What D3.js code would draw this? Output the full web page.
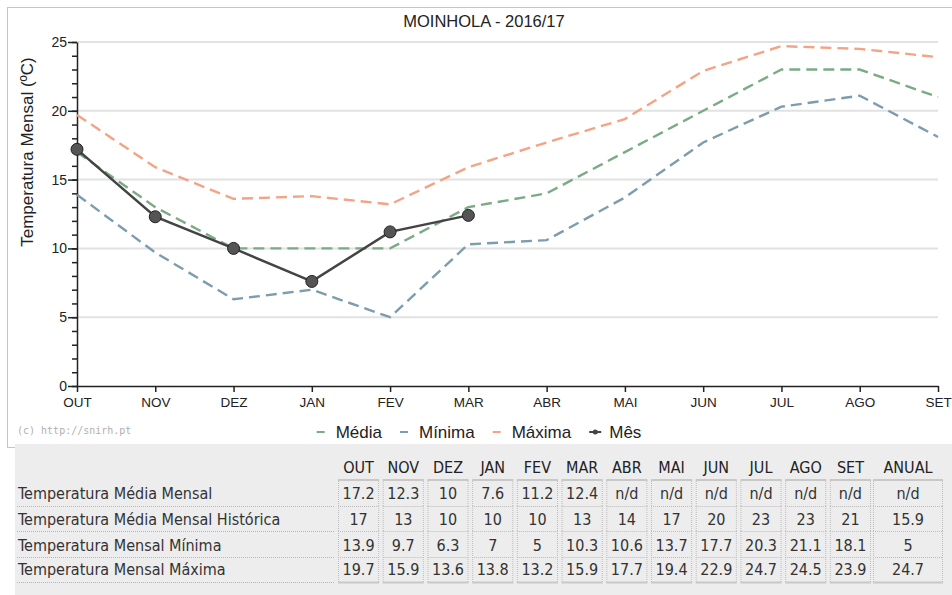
<!DOCTYPE html>
<html>
<head>
<meta charset="utf-8">
<script src="https://cdn.jsdelivr.net/npm/d3@7"></script>
<style>
  body { margin: 0; background: #fff; }
  svg { display: block; }
</style>
</head>
<body>
<div id="chart"></div>
<script>
// Data

const months = ["OUT", "NOV", "DEZ", "JAN", "FEV", "MAR", "ABR", "MAI", "JUN", "JUL", "AGO", "SET"];
const mediaMensal = [17.2, 12.3, 10, 7.6, 11.2, 12.4, null, null, null, null, null, null];
const mediaHistorica = [17, 13, 10, 10, 10, 13, 14, 17, 20, 23, 23, 21];
const minima = [13.9, 9.7, 6.3, 7, 5, 10.3, 10.6, 13.7, 17.7, 20.3, 21.1, 18.1];
const maxima = [19.7, 15.9, 13.6, 13.8, 13.2, 15.9, 17.7, 19.4, 22.9, 24.7, 24.5, 23.9];
const anual = ["n/d", "15.9", "5", "24.7"];
const rowLabels = [
  "Temperatura Média Mensal",
  "Temperatura Média Mensal Histórica",
  "Temperatura Mensal Mínima",
  "Temperatura Mensal Máxima",
];
const yTicks = [0, 5, 10, 15, 20, 25];

// Layout

const width = 952;
const height = 595;
const margin = { top: 42, left: 77, right: 14, bottom: 209 };
const colors = { media: "#7aab85", minima: "#7c9dae", maxima: "#f4a384", mes: "#444" };

const svg = d3
  .select("#chart")
  .append("svg")
  .attr("width", width)
  .attr("height", height);

svg
  .append("rect")
  .attr("x", 7.5)
  .attr("y", 7.5)
  .attr("width", 960)
  .attr("height", 440)
  .attr("fill", "#fff")
  .attr("stroke", "#a9cbee");

svg
  .append("text")
  .attr("x", 484)
  .attr("y", 27)
  .attr("text-anchor", "middle")
  .style("font", "16.5px 'Liberation Sans', Arial")
  .style("fill", "#222")
  .text("MOINHOLA - 2016/17");

const xScale = d3.scalePoint().domain(months).range([margin.left, width - margin.right]);
const yScale = d3.scaleLinear().domain([0, 25]).range([height - margin.bottom, margin.top]);

// Grid

svg
  .append("g")
  .selectAll("line")
  .data(yTicks.slice(1))
  .enter()
  .append("line")
  .attr("x1", margin.left)
  .attr("x2", width - margin.right)
  .attr("y1", (d) => yScale(d))
  .attr("y2", (d) => yScale(d))
  .style("stroke", "#e2e2e2")
  .style("stroke-width", 2);

// Axes

const yMinor = svg
  .append("g")
  .attr("transform", `translate(${margin.left}, 0)`)
  .call(d3.axisLeft(yScale).tickValues(d3.range(0, 26)).tickSize(5).tickFormat(""));
yMinor.select(".domain").remove();

const yAxis = svg
  .append("g")
  .attr("transform", `translate(${margin.left}, 0)`)
  .call(d3.axisLeft(yScale).tickValues(yTicks).tickSize(9).tickSizeOuter(0).tickPadding(1));
yAxis.selectAll("text").style("font", "14px 'Liberation Sans', Arial").style("fill", "#222");
svg.selectAll(".tick line, .domain").style("stroke", "#222").style("stroke-width", 1.5);

const xAxis = svg
  .append("g")
  .attr("transform", `translate(0, ${height - margin.bottom})`)
  .call(d3.axisBottom(xScale).tickSize(6).tickSizeOuter(0).tickPadding(5));
xAxis.selectAll("text").style("font", "13.5px 'Liberation Sans', Arial").style("fill", "#222");
xAxis.selectAll(".tick line, .domain").style("stroke", "#222").style("stroke-width", 1.5);

svg
  .append("text")
  .attr("x", -152)
  .attr("y", 33)
  .attr("transform", "rotate(-90)")
  .attr("text-anchor", "middle")
  .style("font", "17px 'Liberation Sans', Arial")
  .style("fill", "#222")
  .text("Temperatura Mensal (ºC)");

// Lines

const line = d3
  .line()
  .defined((d) => d[1] != null)
  .x((d) => xScale(d[0]))
  .y((d) => yScale(d[1]));

const series = [
  { values: maxima, color: colors.maxima },
  { values: mediaHistorica, color: colors.media },
  { values: minima, color: colors.minima },
];

series.forEach(function (s) {
  svg
    .append("path")
    .datum(months.map((m, i) => [m, s.values[i]]))
    .attr("d", line)
    .style("fill", "none")
    .style("stroke", s.color)
    .style("stroke-width", 2.4)
    .style("stroke-dasharray", "11,6");
});

const mesData = months.map((m, i) => [m, mediaMensal[i]]).filter((d) => d[1] != null);

svg
  .append("path")
  .datum(mesData)
  .attr("d", line)
  .style("fill", "none")
  .style("stroke", colors.mes)
  .style("stroke-width", 2.5);

svg
  .selectAll(".mes-point")
  .data(mesData)
  .enter()
  .append("circle")
  .attr("class", "mes-point")
  .attr("cx", (d) => xScale(d[0]))
  .attr("cy", (d) => yScale(d[1]))
  .attr("r", 6)
  .style("fill", "#555")
  .style("stroke", "#222")
  .style("stroke-width", 1);

// Watermark

svg
  .append("text")
  .attr("x", 17)
  .attr("y", 434)
  .style("font", "10px 'DejaVu Sans Mono', monospace")
  .style("fill", "#b0b0b0")
  .text("(c) http://snirh.pt");

// Legend

const legendItems = [
  { label: "Média", color: colors.media, marker: false },
  { label: "Mínima", color: colors.minima, marker: false },
  { label: "Máxima", color: colors.maxima, marker: false },
  { label: "Mês", color: colors.mes, marker: true },
];

const legend = svg.append("g").attr("transform", "translate(0, 432)");
let lx = 0;
legendItems.forEach(function (item) {
  const g = legend.append("g").attr("transform", `translate(${lx}, 0)`);
  g.append("line")
    .attr("x1", 0)
    .attr("x2", item.marker ? 12 : 8)
    .style("stroke", item.color)
    .style("stroke-width", 2);
  if (item.marker) {
    g.append("circle").attr("cx", 6).attr("r", 2.5).style("fill", item.color);
  }
  const t = g
    .append("text")
    .attr("x", item.marker ? 20 : 19)
    .attr("dy", "0.35em")
    .style("font", "17px 'Liberation Sans', Arial")
    .style("fill", "#222")
    .text(item.label);
  lx += (item.marker ? 20 : 19) + t.node().getComputedTextLength() + 18;
});
legend.attr("transform", `translate(${479 - (lx - 18) / 2}, 432)`);

// Table

const table = svg.append("g");
const tableFont = "16px 'DejaVu Sans Condensed', 'DejaVu Sans', Verdana";

table
  .append("rect")
  .attr("x", 15)
  .attr("y", 444)
  .attr("width", width - 15)
  .attr("height", height - 444)
  .style("fill", "#ededed");

const colScale = d3.scaleBand().domain(months).range([338, 871]).paddingInner(0.08);
const anualCol = { x0: 873, x1: 943 };
const headerY = 467;
const rowY = [493, 519, 545, 569];
const rowBottom = [506, 531, 557, 582];

const columns = months
  .map((m) => ({ label: m, x0: colScale(m), x1: colScale(m) + colScale.bandwidth() }))
  .concat([{ label: "ANUAL", x0: anualCol.x0, x1: anualCol.x1 }]);

const rows = [mediaMensal, mediaHistorica, minima, maxima].map(function (vals, r) {
  return vals.map((v) => (v == null ? "n/d" : String(v))).concat([anual[r]]);
});

table
  .selectAll(".head")
  .data(columns)
  .enter()
  .append("text")
  .attr("x", (d) => (d.x0 + d.x1) / 2)
  .attr("y", headerY)
  .attr("dy", "0.35em")
  .attr("text-anchor", "middle")
  .style("font", tableFont)
  .style("font-stretch", "condensed")
  .style("fill", "#222")
  .text((d) => d.label);

table
  .selectAll(".head-line")
  .data(columns)
  .enter()
  .append("line")
  .attr("x1", (d) => d.x0)
  .attr("x2", (d) => d.x1)
  .attr("y1", 480)
  .attr("y2", 480)
  .style("stroke", "#c8c8c8")
  .style("stroke-width", 2);

rows.forEach(function (row, r) {
  const top = r === 0 ? 481 : rowBottom[r - 1];
  const bottom = rowBottom[r];

  table
    .append("text")
    .attr("x", 18)
    .attr("y", rowY[r])
    .attr("dy", "0.35em")
    .style("font", tableFont)
    .style("font-stretch", "condensed")
    .style("fill", "#333")
    .text(rowLabels[r]);

  table
    .append("line")
    .attr("x1", 17)
    .attr("x2", 335)
    .attr("y1", bottom + 0.5)
    .attr("y2", bottom + 0.5)
    .style("stroke", "#b5b5b5")
    .style("stroke-dasharray", "1,1");

  columns.forEach(function (c, i) {
    table
      .append("text")
      .attr("x", (c.x0 + c.x1) / 2)
      .attr("y", rowY[r])
      .attr("dy", "0.35em")
      .attr("text-anchor", "middle")
      .style("font", tableFont)
      .style("font-stretch", "condensed")
      .style("fill", "#333")
      .text(row[i]);

    table
      .append("path")
      .attr("d", `M${c.x0 + 0.5},${top}V${bottom}M${c.x1 - 0.5},${top}V${bottom}`)
      .style("stroke", "#bdbdbd")
      .style("stroke-dasharray", "1,1");

    table
      .append("line")
      .attr("x1", c.x0)
      .attr("x2", c.x1)
      .attr("y1", bottom + 0.5)
      .attr("y2", bottom + 0.5)
      .style("stroke", r === rows.length - 1 ? "#c8c8c8" : "#bdbdbd")
      .style("stroke-width", r === rows.length - 1 ? 2 : 1)
      .style("stroke-dasharray", r === rows.length - 1 ? null : "1,1");
  });
});
</script>
</body>
</html>
